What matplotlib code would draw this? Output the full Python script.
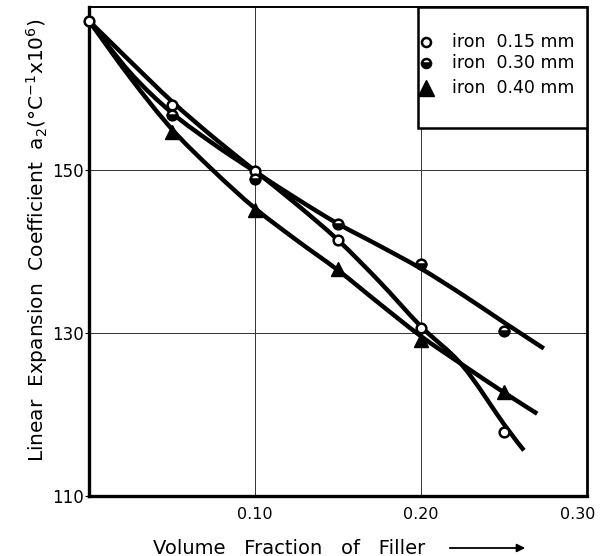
import matplotlib
matplotlib.use("Agg")
import matplotlib.pyplot as plt
from matplotlib.patches import Rectangle, FancyArrowPatch, PathPatch
from matplotlib.path import Path
from matplotlib.transforms import ScaledTranslation

# ---- data ----
x_015 = [0.0, 0.05, 0.10, 0.15, 0.20, 0.25]
y_015 = [168.3, 158.0, 149.9, 141.4, 130.6, 117.9]
x_030 = [0.05, 0.10, 0.15, 0.20, 0.25]
y_030 = [156.8, 148.9, 143.4, 138.5, 130.3]
x_040 = [0.05, 0.10, 0.15, 0.20, 0.25]
y_040 = [154.7, 145.1, 137.9, 129.1, 122.8]

# fitted curves as drawn in the reference (anchor points)
cx_015 = [0.0, 0.025, 0.05, 0.075, 0.10, 0.125, 0.15, 0.175, 0.20, 0.225, 0.25, 0.262]
cy_015 = [168.3, 163.3, 158.4, 154.0, 149.9, 145.8, 141.4, 136.3, 130.8, 126.0, 118.8, 115.6]
cx_030 = [0.0, 0.025, 0.05, 0.075, 0.10, 0.125, 0.15, 0.175, 0.20, 0.225, 0.25, 0.274]
cy_030 = [168.3, 161.9, 157.0, 153.2, 149.8, 146.5, 143.4, 140.7, 137.9, 134.7, 131.3, 128.1]
cx_040 = [0.0, 0.025, 0.05, 0.075, 0.10, 0.125, 0.15, 0.175, 0.20, 0.225, 0.25, 0.270]
cy_040 = [168.3, 161.3, 155.0, 149.9, 145.3, 141.4, 137.7, 133.6, 129.6, 126.1, 122.7, 120.1]

labels = ["iron  0.15 mm", "iron  0.30 mm", "iron  0.40 mm"]
xticks = [0.10, 0.20, 0.30]
xticklabels = ["0.10", "0.20", "0.30"]
yticks = [110, 130, 150]
yticklabels = ["110", "130", "150"]


def smooth_path(xs, ys):
    """Catmull-Rom through the anchors, expressed as cubic Bezier path segments."""
    pts = list(zip(xs, ys))
    verts = [pts[0]]
    codes = [Path.MOVETO]
    n = len(pts)
    for i in range(n - 1):
        p0 = pts[i - 1] if i > 0 else pts[i]
        p1 = pts[i]
        p2 = pts[i + 1]
        p3 = pts[i + 2] if i + 2 < n else pts[i + 1]
        c1 = (p1[0] + (p2[0] - p0[0]) / 6, p1[1] + (p2[1] - p0[1]) / 6)
        c2 = (p2[0] - (p3[0] - p1[0]) / 6, p2[1] - (p3[1] - p1[1]) / 6)
        verts += [c1, c2, p2]
        codes += [Path.CURVE4] * 3
    return Path(verts, codes)


plt.rcParams['font.family'] = ['DejaVu Sans']
fig = plt.figure(figsize=(6.02, 5.56), dpi=100)
ax = fig.add_axes([89/602, 1-496/556, (587-89)/602, (496-7)/556])
ax.set_xlim(0, 0.30)
ax.set_ylim(110, 170)

for v in [0.10, 0.20]:
    ax.axvline(v, color='#333333', lw=0.7, zorder=1)
for v in [130, 150]:
    ax.axhline(v, color='#333333', lw=0.7, zorder=1)

lw = 3.2
for cx, cy in [(cx_015, cy_015), (cx_030, cy_030), (cx_040, cy_040)]:
    ax.add_patch(PathPatch(smooth_path(cx, cy), facecolor='none', edgecolor='black',
                           lw=lw, capstyle='butt', joinstyle='round', zorder=2))

ax.plot(x_015, y_015, 'o', ms=7, mfc='white', mec='black', mew=1.8, zorder=4, clip_on=False)
ax.plot(x_030, y_030, 'o', ms=7, fillstyle='bottom', mfc='black', mfcalt='white',
        mec='black', mew=1.8, zorder=4)
ax.plot(x_040, y_040, '^', ms=10, color='black', zorder=4)

ax.set_xticks(xticks)
ax.set_xticklabels(xticklabels, fontsize=11.5)
ax.set_yticks(yticks)
ax.set_yticklabels(yticklabels, fontsize=12)
ax.tick_params(axis='x', length=0, pad=8)
ax.tick_params(axis='y', length=3, width=0.8, pad=1)
last = ax.get_xticklabels()[-1]
last.set_transform(last.get_transform() + ScaledTranslation(-9/100, 0, fig.dpi_scale_trans))

for s in ['left', 'bottom']:
    ax.spines[s].set_linewidth(2.4)
ax.spines['right'].set_linewidth(2.0)
ax.spines['top'].set_linewidth(1.4)

# legend box
ax.add_patch(Rectangle((0.661, 0.753), 0.339, 0.247, transform=ax.transAxes,
                       facecolor='white', edgecolor='black', lw=1.8, zorder=5))
rows = [0.929, 0.885, 0.834]
ax.plot([0.677], [rows[0]], 'o', ms=6.5, mfc='white', mec='black', mew=1.8,
        transform=ax.transAxes, zorder=6, clip_on=False)
ax.plot([0.677], [rows[1]], 'o', ms=6.5, fillstyle='bottom', mfc='black', mfcalt='white',
        mec='black', mew=1.8, transform=ax.transAxes, zorder=6, clip_on=False)
ax.plot([0.677], [rows[2]], '^', ms=11, color='black', transform=ax.transAxes, zorder=6, clip_on=False)
for r, lab in zip(rows, labels):
    ax.text(0.729, r, lab, transform=ax.transAxes, fontsize=12.5, va='center', ha='left', zorder=7)

# axis labels
fig.text(37/602, 1-240/556, r"Linear  Expansion  Coefficient  $\mathrm{a}_2$(°C$^{-1}$x10$^{6}$)",
         rotation=90, fontsize=14.5, ha='center', va='center')
fig.text(153/602, 1-548/556, "Volume   Fraction   of   Filler", fontsize=14, ha='left', va='center')
fig.patches.append(FancyArrowPatch(
    (447/602, 1-548/556), (528/602, 1-548/556), transform=fig.transFigure,
    arrowstyle='-|>', mutation_scale=12, lw=1.3, color='black'))

fig.savefig("out.png", dpi=100)
